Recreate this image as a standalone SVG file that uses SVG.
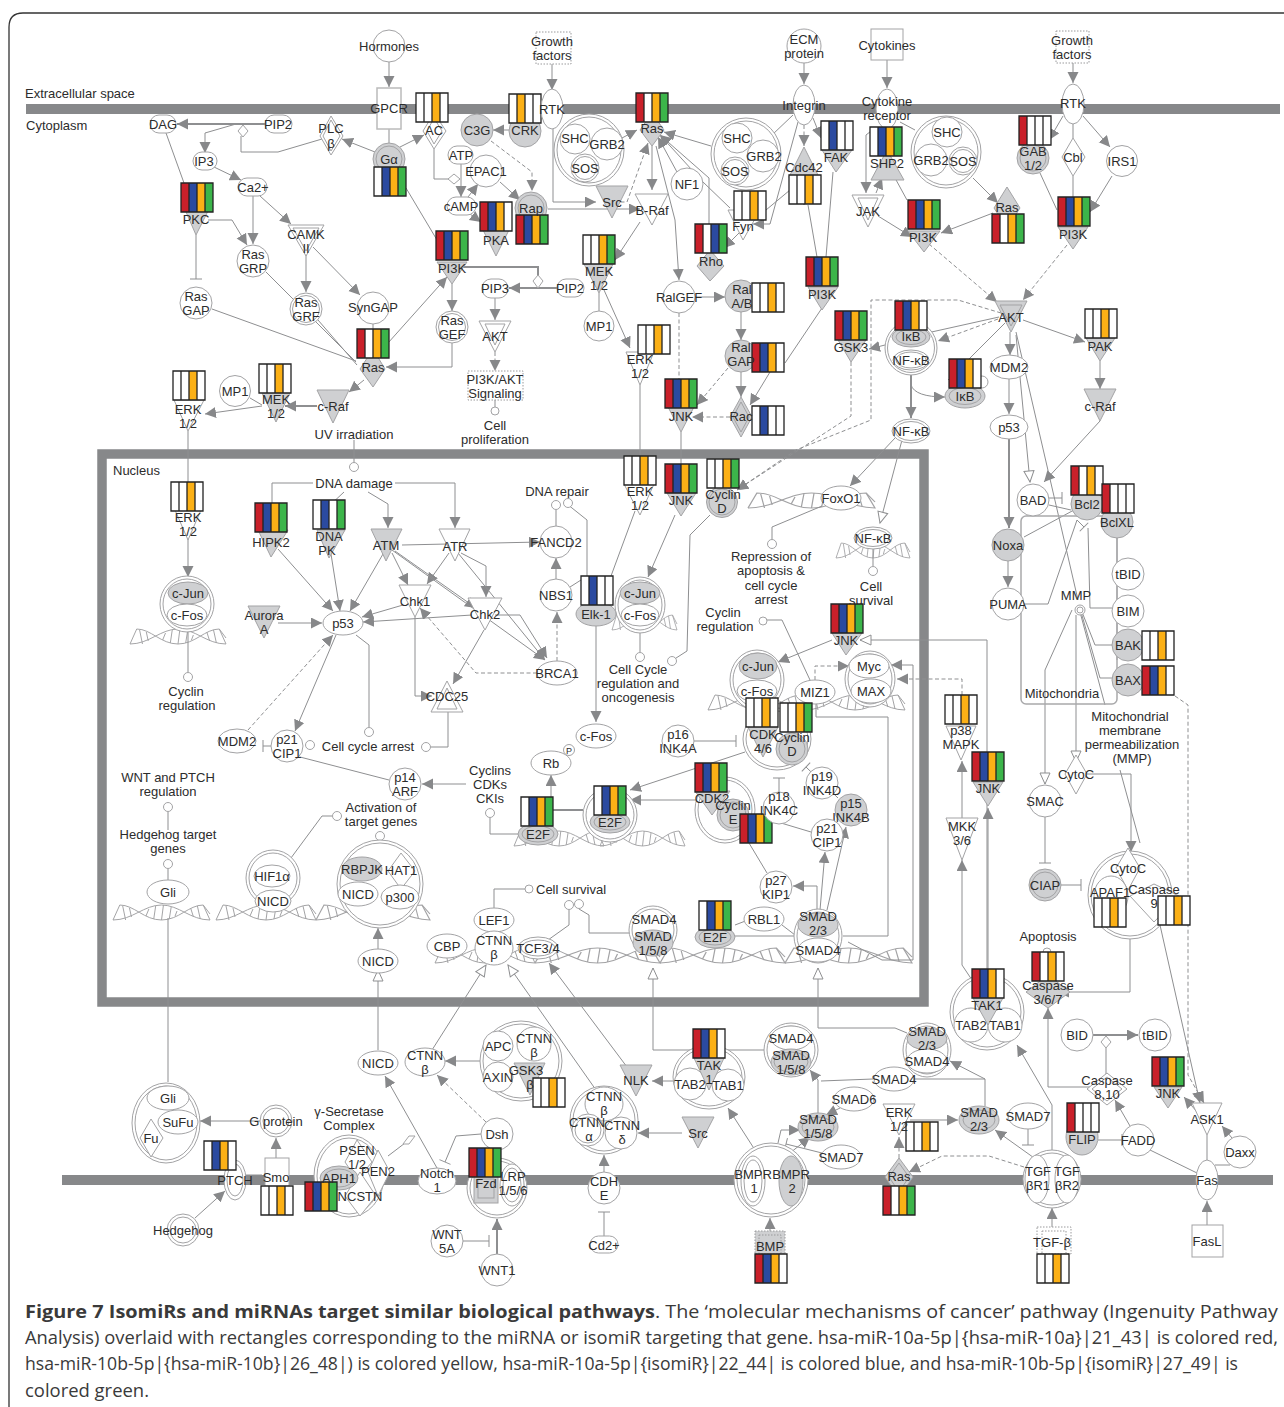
<svg xmlns="http://www.w3.org/2000/svg" width="1284" height="1407" viewBox="0 0 1284 1407">
<style>
.t{font:13px "Liberation Sans",Arial,sans-serif;fill:#2c2c2c;text-anchor:middle}
.l{font:13px "Liberation Sans",Arial,sans-serif;fill:#2c2c2c}
.n{fill:#fff;stroke:#a3a3a5;stroke-width:1}
.f{fill:#cfd0d2;stroke:#a3a3a5;stroke-width:1}
.i{fill:none;stroke:#a3a3a5;stroke-width:1}
.dot{fill:#fff;stroke:#9a9a9c;stroke-width:1;stroke-dasharray:1.5 1.5}
.c path,path.c{fill:none;stroke:#8e8f91;stroke-width:1}
.c .a{marker-end:url(#a)}
.c .o{marker-end:url(#o)}
.c .e{marker-end:url(#e)}
.c .d{stroke-dasharray:4 2.5}
.c .h{stroke-width:2}
.mem{fill:#87888a}
.R{fill:#c9202a}.B{fill:#2b4aa0}.Y{fill:#fbb016}.G{fill:#3cb54a}.W{fill:#fff}
.fr{fill:none;stroke:#232323;stroke-width:1.3}
.cap{font:18px "Open Sans","Noto Sans",Arial,sans-serif;fill:#3a3a3a}
</style>
<defs>
<marker id="a" markerUnits="userSpaceOnUse" markerWidth="12" markerHeight="12" refX="11" refY="5.5" orient="auto"><path d="M0,0L11,5.5L0,11Z" fill="#87888a"/></marker>
<marker id="o" markerUnits="userSpaceOnUse" markerWidth="14" markerHeight="14" refX="12" refY="6" orient="auto"><path d="M1,1L12,6L1,11Z" fill="#fff" stroke="#8e8f91"/></marker>
<marker id="e" markerUnits="userSpaceOnUse" markerWidth="3" markerHeight="14" refX="1.5" refY="7" orient="auto"><path d="M1.5,1V13" stroke="#8e8f91" fill="none"/></marker>
<path id="fr" class="fr" d="M0,0H32V29H0ZM8,0V29M16,0V29M24,0V29"/>
<g id="bRBYG"><rect class="R" width="8" height="29"/><rect class="B" x="8" width="8" height="29"/><rect class="Y" x="16" width="8" height="29"/><rect class="G" x="24" width="8" height="29"/><use href="#fr"/></g>
<g id="bRBYw"><rect class="R" width="8" height="29"/><rect class="B" x="8" width="8" height="29"/><rect class="Y" x="16" width="8" height="29"/><rect class="W" x="24" width="8" height="29"/><use href="#fr"/></g>
<g id="bwBYG"><rect class="W" width="8" height="29"/><rect class="B" x="8" width="8" height="29"/><rect class="Y" x="16" width="8" height="29"/><rect class="G" x="24" width="8" height="29"/><use href="#fr"/></g>
<g id="bwBYw"><rect class="W" width="8" height="29"/><rect class="B" x="8" width="8" height="29"/><rect class="Y" x="16" width="8" height="29"/><rect class="W" x="24" width="8" height="29"/><use href="#fr"/></g>
<g id="bRwYG"><rect class="R" width="8" height="29"/><rect class="W" x="8" width="8" height="29"/><rect class="Y" x="16" width="8" height="29"/><rect class="G" x="24" width="8" height="29"/><use href="#fr"/></g>
<g id="bRwYw"><rect class="R" width="8" height="29"/><rect class="W" x="8" width="8" height="29"/><rect class="Y" x="16" width="8" height="29"/><rect class="W" x="24" width="8" height="29"/><use href="#fr"/></g>
<g id="bRwBG"><rect class="R" width="8" height="29"/><rect class="W" x="8" width="8" height="29"/><rect class="B" x="16" width="8" height="29"/><rect class="G" x="24" width="8" height="29"/><use href="#fr"/></g>
<g id="bRwww"><rect class="R" width="8" height="29"/><rect class="W" x="8" width="24" height="29"/><use href="#fr"/></g>
<g id="bwwYw"><rect class="W" width="32" height="29"/><rect class="Y" x="16" width="8" height="29"/><use href="#fr"/></g>
<g id="bwYww"><rect class="W" width="32" height="29"/><rect class="Y" x="8" width="8" height="29"/><use href="#fr"/></g>
<g id="bwBww"><rect class="W" width="32" height="29"/><rect class="B" x="8" width="8" height="29"/><use href="#fr"/></g>
<g id="bwwYG"><rect class="W" width="32" height="29"/><rect class="Y" x="16" width="8" height="29"/><rect class="G" x="24" width="8" height="29"/><use href="#fr"/></g>
<g id="bwBwG"><rect class="W" width="32" height="29"/><rect class="B" x="8" width="8" height="29"/><rect class="G" x="24" width="8" height="29"/><use href="#fr"/></g>
<g id="dna"><path class="i" d="M0,18L7,3C22,3 32,18 50,18C68,18 78,3 93,3L100,12"/><path class="i" d="M0,18C20,18 32,3 50,3C68,3 80,18 100,18L93,3"/><path class="i" d="M10,4L13,18M17,6L19,15M37,7L34,14M44,4L42,17M52,3L50,18M60,5L58,17M66,9L64,14M80,6L83,15M87,4L90,17"/></g>
</defs>
<path d="M9,1407V27Q9,13 23,13H1284" fill="none" stroke="#333" stroke-width="1.3"/>
<rect class="mem" x="26" y="104" width="1254" height="10"/>
<rect class="mem" x="62" y="1175" width="1211" height="10"/>
<rect x="102" y="454" width="822" height="548" fill="none" stroke="#87888a" stroke-width="9.5"/>
<text class="l" x="25" y="98">Extracellular space</text>
<text class="l" x="26" y="130">Cytoplasm</text>
<text class="l" x="113" y="475">Nucleus</text>
<g id="dna-strands">
<use href="#dna" transform="translate(130,626) scale(.96,1)"/>
<use href="#dna" transform="translate(113,902) scale(.97,1)"/>
<use href="#dna" transform="translate(216,902)"/>
<use href="#dna" transform="translate(316,902) scale(1.14,1)"/>
<use href="#dna" transform="translate(435,945)"/>
<use href="#dna" transform="translate(535,945) scale(1.25,1)"/>
<use href="#dna" transform="translate(660,945) scale(1.25,1)"/>
<use href="#dna" transform="translate(785,945) scale(1.27,1)"/>
<use href="#dna" transform="translate(514,828) scale(.9,1)"/>
<use href="#dna" transform="translate(600,828) scale(.85,1)"/>
<use href="#dna" transform="translate(748,490) scale(1.27,1)"/>
<use href="#dna" transform="translate(836,540) scale(.74,1)"/>
<use href="#dna" transform="translate(708,692)"/>
<use href="#dna" transform="translate(805,692)"/>
<use href="#dna" transform="translate(612,612) scale(.65,1)"/>
</g>
<g id="connectors" class="c">
<path class="a" d="M389,62V87"/><path class="a" d="M552,64V90"/><path class="a" d="M804,63V84"/><path class="a" d="M887,60V88"/><path class="a" d="M1073,63V83"/>
<path class="a h" d="M266,124H177"/><path class="a" d="M236,124L205,133V153"/><path d="M241,136V152H278L322,139"/>
<path class="a" d="M214,167L241,180"/><path class="a" d="M253,196V244"/><path class="a" d="M260,196L291,224"/><path d="M166,133L184,183"/>
<path class="a" d="M208,220H232L247,245"/><path class="e" d="M196,235V279"/><path d="M266,272L356,362"/><path d="M212,309L356,361"/>
<path class="a" d="M306,252V292"/><path class="a" d="M313,247L360,295"/><path d="M318,320L357,365"/><path d="M373,324V329"/>
<path class="a" d="M388,343L447,277"/><path class="a" d="M375,152L342,139"/><path class="a" d="M400,147L424,135"/><path d="M389,129V143"/><path d="M406,188L440,245"/>
<path d="M434,149V179H450"/><path class="a" d="M461,164V197"/><path class="a" d="M500,182L520,200"/><path class="a" d="M468,197L478,184"/><path class="a" d="M470,214L481,222"/>
<path class="a d" d="M491,141L532,172V191"/><path class="a" d="M509,130H493"/><path class="a" d="M553,128V202H596"/><path class="a" d="M548,209H640"/><path class="a d" d="M614,202H627L648,143"/>
<path class="a" d="M622,138L637,130"/><path class="a" d="M652,146V190"/><path class="a" d="M640,222L615,260"/><path class="a" d="M656,146L675,220L679,280"/>
<path class="a" d="M711,146L664,132"/><path class="a" d="M677,172L658,137"/><path class="a" d="M709,224V178L660,135"/><path class="a" d="M730,208L703,182L660,135"/>
<path d="M793,115L772,135"/><path class="a" d="M798,122L770,224H753"/><path class="a d" d="M804,125V146"/><path class="a" d="M813,118L821,138"/>
<path d="M790,190L766,210"/><path class="a" d="M740,232L724,248"/><path d="M808,205L817,257"/><path d="M833,172L826,257"/><path d="M822,308L785,363"/>
<path class="a" d="M695,297H725"/><path class="a" d="M741,312V340"/><path class="a" d="M741,372V397"/><path class="a d" d="M728,368L697,405"/><path class="a d" d="M730,417H692"/><path class="a" d="M770,372L750,405"/><path class="d" d="M679,313V379"/>
<path d="M875,128L866,135"/><path class="a" d="M866,135V193"/><path class="a" d="M876,193L882,178"/><path d="M895,178L907,200"/><path class="a" d="M878,216L912,237"/><path class="a" d="M993,213L941,233"/>
<path d="M900,122L915,130"/><path class="a" d="M973,178L998,203"/><path class="a d" d="M929,244L997,302"/><path class="a d" d="M1067,245L1023,300"/>
<path class="a" d="M1063,116L1049,140"/><path d="M1073,124V138"/><path d="M1073,176V197"/><path class="a" d="M1083,116L1110,147"/><path class="a" d="M1112,176L1090,212"/><path d="M1040,173L1057,210"/>
<path d="M999,317L927,333"/><path class="a d" d="M998,319L938,341"/><path d="M1005,323L948,380"/><path class="a" d="M1010,332V355"/><path class="a" d="M1023,320L1085,342"/>
<path class="a d" d="M1001,313L958,300H871V420L796,450L737,490"/><path class="a d" d="M851,362V416L737,490"/>
<path class="o" d="M1016,335L1030,482"/><path d="M1016,332L1078,600"/><path class="a" d="M1100,421L1044,482"/><path class="a" d="M1100,361V389"/><path class="a" d="M1009,379V414"/><path class="a h" d="M1009,439V528"/><path class="a" d="M1008,561V587"/>
<path class="a" d="M885,345L869,349"/><path class="a h" d="M911,375V418"/><path class="a" d="M911,385Q915,397 945,397"/><path class="a" d="M895,438L850,486"/><path class="o" d="M902,440L880,523"/>
<path class="e" d="M1049,498H1062"/><path d="M1049,505L1071,510"/><path d="M1024,537L1074,510"/><path d="M1024,604H1048L1077,520"/><path class="e" d="M1077,520L1084,527"/>
<path d="M1117,538V660"/><path d="M1088,528L1090,608H1112"/><path d="M1082,612L1095,645H1112"/><path d="M1081,612L1100,678H1112"/><path d="M1080,612L1105,705"/><path d="M1120,770L1140,843"/>
<path class="o" d="M1072,610L1045,670V784"/><path class="o" d="M1076,615V762"/><path class="e" d="M1045,817V863"/><path class="e" d="M1061,885H1081"/><path class="a" d="M1086,774H1131V852"/><path class="a" d="M1130,928V992H1058"/><path class="a" d="M1160,925L1200,1103"/>
<path class="a d" d="M1175,696L1188,705V1075L1204,1103"/>
<path class="a" d="M1052,1151V1105L1017,1045"/><path class="a" d="M1090,1087H1048V1008"/><path class="a h" d="M1093,1035H1138"/><path d="M1106,1048V1075"/><path class="a" d="M1130,1126L1115,1100"/><path class="e" d="M1098,1140H1122"/><path d="M1150,1150L1197,1173"/><path d="M1207,1160V1135"/><path d="M1215,1165L1230,1165"/>
<path class="a" d="M1232,1138L1222,1126"/><path class="a" d="M1198,1113L1184,1097"/><path class="a" d="M1207,1225V1201"/><path class="a" d="M1052,1227V1208"/><path class="a" d="M770,1231V1218"/><path class="a" d="M755,1150L728,1108"/>
<path class="a" d="M778,1143L781,1130H800"/><path class="a" d="M790,1153L810,1137"/><path class="e" d="M822,1153L786,1144"/><path class="a" d="M840,1108L826,1115"/><path class="a" d="M818,1113V1080L810,1070"/><path d="M873,1079L821,1081"/><path d="M914,1079H985"/><path class="a" d="M985,1106V1079L950,1061"/>
<path class="a" d="M1037,1160L995,1130"/><path class="a d" d="M1024,1167L989,1156H942L909,1172"/><path class="e" d="M1028,1129V1145"/><path class="a d" d="M899,1158V1137"/><path class="a" d="M910,1120H958"/>
<path d="M818,1028H895L907,1033"/><path class="o" d="M818,1028V968"/><path d="M653,1050H765"/><path class="o" d="M653,1050V968"/><path class="a" d="M682,1133H638"/><path class="a" d="M674,1081H652"/>
<path class="a" d="M627,1067L549,963"/><path class="o" d="M596,1090L508,965"/><path class="o" d="M432,1050L486,965"/><path class="o" d="M378,1050V970"/><path class="a" d="M437,1168L385,1076"/><path class="a" d="M481,1061H445"/><path class="a d" d="M486,1122L437,1075"/>
<path class="e" d="M481,1134L456,1136L445,1162"/><path d="M409,1140L388,1156"/><path class="a h" d="M497,1254V1219"/><path class="e" d="M463,1241H489"/><path class="a" d="M604,1172V1155"/><path class="e" d="M604,1236V1212"/>
<path class="a" d="M260,1121H200"/><path class="a" d="M276,1158V1138"/><path class="a" d="M195,1218L225,1191"/><path d="M246,1175H262"/><path d="M168,918V1082"/>
<path class="a" d="M188,531V577"/><path d="M188,431V482"/><path d="M188,631V672"/><path class="a" d="M262,406L205,414"/><path class="a h" d="M317,406H285"/><path class="a" d="M364,380L349,392"/><path d="M250,398L262,405"/>
<path class="a" d="M452,343V367H386"/><path class="a" d="M452,284V311"/><path class="h" d="M462,267H538V276"/><path class="a h" d="M557,288H509"/><path class="a" d="M495,298V320"/><path class="a d" d="M495,352V371"/><path d="M495,400V407"/><path d="M354,440V463"/>
<path d="M640,385V456"/><path class="a" d="M604,290L630,348"/><path d="M599,293V311"/><path d="M681,432V464"/><path class="a" d="M675,515L648,577"/><path d="M635,511L611,576"/><path class="a" d="M596,626V722"/>
<path d="M567,504L587,520V576"/><path d="M570,587L581,580"/><path d="M556,526V510"/><path class="a" d="M556,579V558"/><path class="a d" d="M557,661V612"/><path class="a" d="M402,545L540,542"/>
<path class="a" d="M395,483H455V528"/><path class="a" d="M368,492L388,504V528"/><path d="M344,492L328,507"/><path d="M313,483H272V503"/><path class="a" d="M278,549L333,611"/><path class="a" d="M331,554L340,611"/><path class="a" d="M383,554L350,611"/><path class="a" d="M278,623H322"/>
<path class="a" d="M403,605L362,617"/><path class="a" d="M472,615L363,622"/><path class="a" d="M392,553L408,585"/><path class="a" d="M449,553L427,584"/><path class="a" d="M395,551L476,608"/><path class="a" d="M461,553L486,566V597"/><path class="a" d="M392,550L545,660"/><path class="a" d="M458,553L545,660"/><path class="a" d="M495,615H520L547,658"/>
<path class="a d" d="M537,673H476L420,608"/><path class="a" d="M415,617V696H432"/><path class="a" d="M484,630L453,684"/><path d="M448,712V747H431"/><path class="a" d="M336,635L295,731"/><path class="a d" d="M248,730L333,635"/><path d="M356,635L369,645V727"/><path class="e" d="M271,746H263"/><path d="M300,757L389,780"/><path class="a" d="M466,784H422"/>
<path d="M490,818V834H521"/><path class="a" d="M551,797V775"/><path class="h" d="M552,810H583"/><path d="M332,816H322L288,862"/><path d="M380,841V842"/><path class="a" d="M378,949V928"/><path d="M168,812V830"/><path d="M168,869V880"/><path d="M494,908V889H525"/><path d="M548,940L569,925V910"/><path d="M579,909L589,915V933H630"/>
<path d="M735,925L748,920"/><path d="M782,925L795,935"/><path d="M735,936H794"/><path class="a" d="M817,918V886H793"/><path class="a" d="M820,910L825,852"/><path class="a" d="M827,910L846,827"/><path d="M811,832L771,820"/><path d="M767,873L749,843"/><path class="e" d="M779,792V778"/><path class="e" d="M838,798L806,767"/><path class="e" d="M694,741H736"/><path class="a" d="M745,752L630,790"/><path class="a" d="M696,800H630"/>
<path class="a" d="M832,640L778,662"/><path class="o" d="M987,970V640H860"/><path class="a" d="M988,970V808"/><path class="a" d="M962,818V761"/><path class="a" d="M972,980L962,965V860"/><path class="a d" d="M962,695V679H897"/><path class="a d" d="M815,680V666H849"/><path d="M767,620H782L810,680"/><path d="M816,704V717H888V936H843"/><path class="a" d="M848,942L882,960H913V665H891"/>
<path d="M710,515L690,535L687,651L673,660"/><path d="M772,540V527L822,506"/><path d="M873,549V566"/><path d="M640,633V652"/>
</g>
<rect x="1021" y="516" width="96" height="188" rx="5" fill="none" stroke="#a9a9ab" stroke-width="1.5"/>
<text class="t" x="1062" y="698">Mitochondria</text>
<g id="nodes">
<g id="hormones"><circle class="n" cx="389" cy="46" r="16"/><text class="t" x="389" y="51">Hormones</text></g>
<g id="gf1"><rect class="dot" x="536" y="32" width="35" height="32"/><text class="t" x="552" y="46">Growth<tspan x="552" dy="14">factors</tspan></text></g>
<g id="gpcr"><rect x="377" y="88" width="24" height="41" fill="#fff" stroke="#bbb" stroke-width="1.5"/><text class="t" x="389" y="113">GPCR</text></g>
<g id="ac"><polygon class="n" points="434,113 446,131 434,149 423,131"/><polygon class="i" points="434,118 442,131 434,144 427,131"/><use href="#bwwYw" x="416" y="93"/><text class="t" x="434" y="135">AC</text></g>
<g id="crk"><circle class="f" cx="525" cy="131" r="16"/><use href="#bwYww" x="509" y="94"/><text class="t" x="525" y="135">CRK</text></g>
<g id="rtk1"><ellipse class="n" cx="552" cy="109" rx="11" ry="20"/><text class="t" x="552" y="114">RTK</text></g>
<g id="c3g"><circle class="f" cx="477" cy="130" r="16"/><text class="t" x="477" y="135">C3G</text></g>
<g id="dag"><rect class="n" x="150" y="115" width="26" height="18" rx="9"/><text class="t" x="163" y="129">DAG</text></g>
<g id="pip2a"><rect class="n" x="265" y="115" width="27" height="18" rx="9"/><text class="t" x="278" y="129">PIP2</text></g>
<g id="dm1"><polygon class="n" points="243,125 248,131 243,137 238,131"/></g>
<g id="plc"><polygon class="n" points="331,116 343,136 331,155 320,136"/><polygon class="i" points="331,120 340,136 331,151 323,136"/><text class="t" x="331" y="133">PLC<tspan x="331" dy="15">β</tspan></text></g>
<g id="ga"><circle class="f" cx="389" cy="159" r="16"/><circle class="i" cx="389" cy="159" r="13"/><use href="#bwBYG" x="374" y="167"/><text class="t" x="389" y="164">Gα</text></g>
<g id="ip3"><rect class="n" x="193" y="152" width="24" height="18" rx="9"/><text class="t" x="204" y="166">IP3</text></g>
<g id="ca"><rect class="n" x="238" y="178" width="29" height="18" rx="9"/><text class="t" x="253" y="192">Ca2+</text></g>
<g id="pkc"><polygon class="f" points="183,205 211,205 196,235"/><use href="#bRBYG" x="181" y="183"/><text class="t" x="196" y="224">PKC</text></g>
<g id="rasgrp"><circle class="n" cx="253" cy="261" r="16"/><text class="t" x="253" y="259">Ras<tspan x="253" dy="14">GRP</tspan></text></g>
<g id="camk"><polygon class="n" points="288,225 324,225 306,256"/><polygon class="i" points="293,228 319,228 306,251"/><text class="t" x="306" y="239">CAMK<tspan x="306" dy="14">II</tspan></text></g>
<g id="rasgrf"><circle class="n" cx="306" cy="309" r="16"/><circle class="i" cx="306" cy="309" r="13.5"/><text class="t" x="306" y="307">Ras<tspan x="306" dy="14">GRF</tspan></text></g>
<g id="syngap"><circle class="n" cx="373" cy="308" r="16"/><text class="t" x="373" y="312">SynGAP</text></g>
<g id="rasgap"><circle class="n" cx="196" cy="303" r="16"/><text class="t" x="196" y="301">Ras<tspan x="196" dy="14">GAP</tspan></text></g>
<g id="ras1"><polygon class="f" points="373,349 385,369 373,387 360,369"/><use href="#bRwYG" x="357" y="329"/><text class="t" x="373" y="372">Ras</text></g>
<g id="craf1"><polygon class="f" points="317,390 349,390 333,423"/><text class="t" x="333" y="411">c-Raf</text></g>
<g id="mek1"><polygon class="f" points="262,393 290,393 276,422"/><use href="#bwwYw" x="259" y="364"/><text class="t" x="276" y="404">MEK<tspan x="276" dy="14">1/2</tspan></text></g>
<g id="mp1a"><circle class="n" cx="235" cy="391" r="15.5"/><text class="t" x="235" y="396">MP1</text></g>
<g id="erk1"><polygon class="n" points="174,400 204,400 188,431"/><use href="#bwwYw" x="173" y="371"/><text class="t" x="188" y="414">ERK<tspan x="188" dy="14">1/2</tspan></text></g>
<g id="pi3k1"><polygon class="f" points="437,262 467,262 452,284"/><use href="#bRBYG" x="436" y="231"/><text class="t" x="452" y="273">PI3K</text></g>
<g id="pka"><polygon class="f" points="482,228 510,228 496,256"/><use href="#bRBYw" x="480" y="202"/><text class="t" x="496" y="245">PKA</text></g>
<g id="rap"><circle class="f" cx="531" cy="208" r="16"/><circle class="i" cx="531" cy="208" r="13"/><use href="#bRBYG" x="516" y="215"/><text class="t" x="531" y="213">Rap</text></g>
<g id="atp"><rect class="n" x="448" y="146" width="25" height="18" rx="9"/><text class="t" x="461" y="160">ATP</text></g>
<g id="epac"><circle class="n" cx="486" cy="171" r="16"/><text class="t" x="486" y="176">EPAC1</text></g>
<g id="camp"><rect class="n" x="447" y="197" width="29" height="18" rx="9"/><text class="t" x="461" y="211">cAMP</text></g>
<g id="dm2"><polygon class="n" points="454,174 460,179 454,184 448,179"/></g>
<g id="shc1"><ellipse class="n" cx="589" cy="150" rx="35" ry="36"/><ellipse class="i" cx="589" cy="150" rx="32" ry="33"/><circle class="n" cx="575" cy="139" r="15"/><circle class="n" cx="607" cy="144" r="16"/><circle class="n" cx="585" cy="168" r="14"/><circle class="i" cx="585" cy="168" r="11.5"/><text class="t" x="575" y="143">SHC</text><text class="t" x="607" y="149">GRB2</text><text class="t" x="585" y="173">SOS</text></g>
<g id="src1"><polygon class="f" points="596,186 628,186 612,218"/><text class="t" x="612" y="207">Src</text></g>
<g id="braf"><polygon class="n" points="635,194 668,194 652,225"/><text class="t" x="652" y="215">B-Raf</text></g>
<g id="ras2"><polygon class="f" points="652,113 664,130 652,146 640,130"/><use href="#bRwYG" x="636" y="93"/><text class="t" x="652" y="133">Ras</text></g>
<g id="nf1"><circle class="n" cx="687" cy="184" r="16"/><text class="t" x="687" y="189">NF1</text></g>
<g id="mek2"><polygon class="f" points="584,264 613,264 599,293"/><use href="#bwwYG" x="583" y="235"/><text class="t" x="599" y="276">MEK<tspan x="599" dy="14">1/2</tspan></text></g>
<g id="mp1b"><circle class="n" cx="599" cy="326" r="15"/><text class="t" x="599" y="331">MP1</text></g>
<g id="pip2b"><rect class="n" x="557" y="279" width="27" height="18" rx="9"/><text class="t" x="570" y="293">PIP2</text></g>
<g id="pip3"><rect class="n" x="482" y="279" width="26" height="19" rx="9"/><text class="t" x="495" y="293">PIP3</text></g>
<g id="dm3"><polygon class="n" points="538,275 543,281 538,288 533,281"/></g>
<g id="rasgef"><circle class="n" cx="452" cy="327" r="16"/><circle class="i" cx="452" cy="327" r="13.5"/><text class="t" x="452" y="325">Ras<tspan x="452" dy="14">GEF</tspan></text></g>
<g id="akt1"><polygon class="n" points="479,321 511,321 495,352"/><polygon class="i" points="485,324 505,324 495,345"/><text class="t" x="495" y="341">AKT</text></g>
<g id="pi3ksig"><rect class="dot" x="468" y="371" width="55" height="29"/><text class="t" x="495" y="384">PI3K/AKT<tspan x="495" dy="14">Signaling</tspan></text></g>
<g id="cellprol"><circle class="n" cx="495" cy="411" r="4"/><text class="t" x="495" y="430">Cell<tspan x="495" dy="14">proliferation</tspan></text></g>
<g id="uv"><text class="t" x="354" y="439">UV irradiation</text><circle class="n" cx="354" cy="467" r="4.5"/></g>
<g id="shc2"><ellipse class="n" cx="746" cy="154" rx="35" ry="36"/><ellipse class="i" cx="746" cy="154" rx="32" ry="33"/><circle class="n" cx="737" cy="138" r="15"/><circle class="n" cx="763" cy="156" r="16"/><circle class="n" cx="735" cy="171" r="14"/><circle class="i" cx="735" cy="171" r="11.5"/><text class="t" x="737" y="143">SHC</text><text class="t" x="764" y="161">GRB2</text><text class="t" x="735" y="176">SOS</text></g>
<g id="ecm"><circle class="n" cx="804" cy="46" r="17"/><text class="t" x="804" y="44">ECM<tspan x="804" dy="14">protein</tspan></text></g>
<g id="integrin"><ellipse class="n" cx="804" cy="105" rx="11" ry="20"/><text class="t" x="804" y="110">Integrin</text></g>
<g id="cytokines"><rect class="n" x="871" y="29" width="32" height="31" stroke-width="1.5"/><text class="t" x="887" y="50">Cytokines</text></g>
<g id="cytrec"><ellipse class="n" cx="887" cy="109" rx="11" ry="20"/><text class="t" x="887" y="106">Cytokine<tspan x="887" dy="14">receptor</tspan></text></g>
<g id="gf2"><rect class="dot" x="1056" y="31" width="33" height="32"/><text class="t" x="1072" y="45">Growth<tspan x="1072" dy="14">factors</tspan></text></g>
<g id="rtk2"><ellipse class="n" cx="1073" cy="104" rx="11" ry="20"/><text class="t" x="1073" y="108">RTK</text></g>
<g id="fak"><polygon class="f" points="822,150 852,150 836,172"/><use href="#bwBww" x="821" y="121"/><text class="t" x="836" y="162">FAK</text></g>
<g id="cdc42"><polygon class="f" points="804,147 819,177 804,205 789,177"/><use href="#bwwYw" x="789" y="175"/><text class="t" x="804" y="172">Cdc42</text></g>
<g id="fyn"><polygon class="n" points="728,210 760,210 743,240"/><use href="#bwwYw" x="734" y="191"/><text class="t" x="743" y="231">Fyn</text></g>
<g id="rho"><polygon class="f" points="710,250 724,266 710,281 697,266"/><use href="#bRwBG" x="695" y="224"/><text class="t" x="711" y="266">Rho</text></g>
<g id="shp2"><polygon class="f" points="887,150 904,180 871,180"/><use href="#bwBYG" x="870" y="127"/><text class="t" x="887" y="168">SHP2</text></g>
<g id="jak"><polygon class="n" points="852,195 884,195 868,227"/><polygon class="i" points="858,198 878,198 868,220"/><text class="t" x="868" y="216">JAK</text></g>
<g id="shc3"><ellipse class="n" cx="946" cy="152" rx="35" ry="36"/><ellipse class="i" cx="946" cy="152" rx="32" ry="33"/><circle class="n" cx="947" cy="132" r="15"/><circle class="n" cx="931" cy="160" r="16"/><circle class="n" cx="963" cy="161" r="14"/><circle class="i" cx="963" cy="161" r="11.5"/><text class="t" x="947" y="137">SHC</text><text class="t" x="931" y="165">GRB2</text><text class="t" x="963" y="166">SOS</text></g>
<g id="ras3"><polygon class="f" points="1007,187 1020,208 1007,228 994,208"/><use href="#bRwYG" x="992" y="214"/><text class="t" x="1007" y="212">Ras</text></g>
<g id="pi3k2"><polygon class="f" points="908,231 940,231 924,252"/><use href="#bRBYG" x="908" y="200"/><text class="t" x="923" y="242">PI3K</text></g>
<g id="gab"><circle class="f" cx="1033" cy="158" r="16"/><circle class="i" cx="1033" cy="158" r="13"/><use href="#bRwww" x="1019" y="116"/><text class="t" x="1033" y="156">GAB<tspan x="1033" dy="14">1/2</tspan></text></g>
<g id="cbl"><polygon class="n" points="1073,138 1085,157 1073,176 1062,157"/><text class="t" x="1073" y="162">Cbl</text></g>
<g id="irs1"><circle class="n" cx="1122" cy="161" r="15.5"/><text class="t" x="1122" y="166">IRS1</text></g>
<g id="pi3k3"><polygon class="f" points="1058,227 1088,227 1073,249"/><use href="#bRBYG" x="1058" y="197"/><text class="t" x="1073" y="239">PI3K</text></g>
<g id="ralgef"><circle class="n" cx="679" cy="297" r="16"/><text class="t" x="679" y="302">RalGEF</text></g>
<g id="ralab"><circle class="f" cx="741" cy="296" r="16"/><use href="#bwwYw" x="752" y="283"/><text class="t" x="742" y="294">Ral<tspan x="742" dy="14">A/B</tspan></text></g>
<g id="pi3k4"><polygon class="f" points="808,287 838,287 822,310"/><use href="#bRBYG" x="806" y="257"/><text class="t" x="822" y="299">PI3K</text></g>
<g id="ralgap"><circle class="f" cx="741" cy="356" r="16"/><use href="#bRBYw" x="752" y="343"/><text class="t" x="741" y="352">Ral<tspan x="741" dy="14">GAP</tspan></text></g>
<g id="rac"><polygon class="f" points="741,397 752,417 741,437 730,417"/><polygon class="i" points="741,402 749,417 741,432 733,417"/><use href="#bwBww" x="752" y="406"/><text class="t" x="741" y="421">Rac</text></g>
<g id="jnk1"><polygon class="f" points="667,405 695,405 681,432"/><use href="#bRBYG" x="665" y="379"/><text class="t" x="681" y="421">JNK</text></g>
<g id="erk2"><polygon class="n" points="626,352 654,352 640,385"/><use href="#bwwYw" x="638" y="325"/><text class="t" x="640" y="364">ERK<tspan x="640" dy="14">1/2</tspan></text></g>
<g id="gsk3"><polygon class="f" points="838,340 866,340 851,362"/><use href="#bRBYG" x="835" y="311"/><text class="t" x="851" y="352">GSK3</text></g>
<g id="ikbc"><ellipse class="n" cx="911" cy="348" rx="26" ry="27"/><ellipse class="i" cx="911" cy="348" rx="23.5" ry="24.5"/><ellipse class="f" cx="911" cy="337" rx="19" ry="10"/><ellipse class="i" cx="911" cy="337" rx="15" ry="7.5"/><ellipse class="n" cx="911" cy="360" rx="18" ry="10"/><ellipse class="i" cx="911" cy="360" rx="15" ry="8"/><use href="#bRBYw" x="895" y="301"/><text class="t" x="911" y="341">IκB</text><text class="t" x="911" y="365">NF-κB</text></g>
<g id="ikb2"><circle class="n" cx="982" cy="382" r="6"/><ellipse class="f" cx="965" cy="396" rx="20" ry="12"/><ellipse class="i" cx="965" cy="396" rx="16" ry="8.5"/><use href="#bRBYw" x="949" y="359"/><text class="t" x="965" y="401">IκB</text></g>
<g id="nfkb2"><ellipse class="n" cx="911" cy="431" rx="19" ry="12"/><ellipse class="i" cx="911" cy="431" rx="16" ry="9.5"/><text class="t" x="911" y="436">NF-κB</text></g>
<g id="akt2"><polygon class="f" points="995,301 1027,301 1011,332"/><polygon class="i" points="1000,305 1022,305 1011,326"/><text class="t" x="1011" y="322">AKT</text></g>
<g id="mdm2a"><ellipse class="n" cx="1009" cy="367" rx="19" ry="12"/><text class="t" x="1009" y="372">MDM2</text></g>
<g id="p53a"><ellipse class="n" cx="1009" cy="427" rx="19" ry="12"/><text class="t" x="1009" y="432">p53</text></g>
<g id="pak"><polygon class="f" points="1086,338 1115,338 1100,361"/><use href="#bwwYw" x="1085" y="309"/><text class="t" x="1100" y="351">PAK</text></g>
<g id="craf2"><polygon class="f" points="1084,389 1116,389 1100,421"/><text class="t" x="1100" y="411">c-Raf</text></g>
<g id="bad"><circle class="n" cx="1033" cy="500" r="16"/><text class="t" x="1033" y="505">BAD</text></g>
<g id="bcl2"><circle class="f" cx="1087" cy="504" r="16"/><use href="#bRwYw" x="1071" y="466"/><text class="t" x="1087" y="509">Bcl2</text></g>
<g id="bclxl"><circle class="f" cx="1117" cy="522" r="16"/><use href="#bRwww" x="1102" y="484"/><text class="t" x="1117" y="527">BclXL</text></g>
<g id="noxa"><circle class="f" cx="1008" cy="545" r="16"/><text class="t" x="1008" y="550">Noxa</text></g>
<g id="puma"><circle class="n" cx="1008" cy="604" r="16"/><text class="t" x="1008" y="609">PUMA</text></g>
<g id="tbid1"><circle class="n" cx="1128" cy="574" r="16"/><text class="t" x="1128" y="579">tBID</text></g>
<g id="bim"><circle class="n" cx="1128" cy="611" r="16"/><text class="t" x="1128" y="616">BIM</text></g>
<g id="bak"><circle class="f" cx="1128" cy="645" r="16"/><use href="#bwwYw" x="1142" y="631"/><text class="t" x="1128" y="650">BAK</text></g>
<g id="bax"><circle class="f" cx="1128" cy="680" r="16"/><use href="#bRBYw" x="1142" y="666"/><text class="t" x="1128" y="685">BAX</text></g>
<g id="mmp"><text class="t" x="1076" y="600">MMP</text><circle class="n" cx="1080" cy="610" r="5"/><circle class="i" cx="1080" cy="610" r="3"/></g>
<text class="t" x="1130" y="721">Mitochondrial<tspan x="1130" dy="14">membrane</tspan><tspan x="1132" dy="14">permeabilization</tspan><tspan x="1132" dy="14">(MMP)</tspan></text>
<g id="cytoc"><polygon class="n" points="1076,755 1087,774 1076,794 1065,774"/><text class="t" x="1076" y="779">CytoC</text></g>
<g id="smac"><circle class="n" cx="1045" cy="801" r="16"/><text class="t" x="1045" y="806">SMAC</text></g>
<g id="ciap"><circle class="f" cx="1045" cy="885" r="16"/><circle class="i" cx="1045" cy="885" r="13"/><text class="t" x="1045" y="890">CIAP</text></g>
<g id="casp9c"><ellipse class="n" cx="1130" cy="895" rx="42" ry="44"/><ellipse class="i" cx="1130" cy="895" rx="39" ry="41"/><polygon class="n" points="1128,848 1140,868 1128,890 1116,868"/><ellipse class="n" cx="1111" cy="896" rx="17" ry="20"/><polygon class="n" points="1154,884 1179,896 1154,922 1130,896"/><use href="#bwwYw" x="1094" y="898"/><use href="#bwwYw" x="1158" y="896"/><text class="t" x="1128" y="873">CytoC</text><text class="t" x="1110" y="897">APAF1</text><text class="t" x="1154" y="894">Caspase<tspan x="1154" dy="14">9</tspan></text></g>
<g id="casp3"><text class="t" x="1048" y="941">Apoptosis</text><circle class="n" cx="1047" cy="952" r="4"/><polygon class="f" points="1048,975 1070,992 1048,1008 1026,992"/><use href="#bRwYw" x="1032" y="952"/><text class="t" x="1048" y="990">Caspase<tspan x="1048" dy="14">3/6/7</tspan></text></g>
<g id="tak1c"><ellipse class="n" cx="987" cy="1012" rx="37" ry="38"/><ellipse class="i" cx="987" cy="1012" rx="34" ry="35"/><circle class="n" cx="971" cy="1025" r="17"/><circle class="n" cx="1005" cy="1025" r="17"/><polygon class="f" points="973,998 1003,998 988,1025"/><use href="#bRBYw" x="972" y="969"/><text class="t" x="987" y="1010">TAK1</text><text class="t" x="971" y="1030">TAB2</text><text class="t" x="1005" y="1030">TAB1</text></g>
<g id="p38"><polygon class="n" points="946,726 976,726 961,760"/><use href="#bwwYw" x="945" y="695"/><text class="t" x="961" y="735">p38<tspan x="961" dy="14">MAPK</tspan></text></g>
<g id="jnk2"><polygon class="f" points="973,782 1003,782 988,806"/><use href="#bRBYG" x="972" y="752"/><text class="t" x="988" y="793">JNK</text></g>
<g id="mkk"><polygon class="n" points="946,818 978,818 962,860"/><text class="t" x="962" y="831">MKK<tspan x="962" dy="14">3/6</tspan></text></g>
<g id="erk3"><polygon class="n" points="175,510 201,510 188,540"/><use href="#bwwYw" x="171" y="482"/><text class="t" x="188" y="522">ERK<tspan x="188" dy="14">1/2</tspan></text></g>
<g id="junfos1"><ellipse class="n" cx="187" cy="604" rx="27" ry="28"/><ellipse class="i" cx="187" cy="604" rx="24" ry="25"/><ellipse class="f" cx="188" cy="593" rx="20" ry="11"/><ellipse class="n" cx="187" cy="615" rx="20" ry="11"/><text class="t" x="188" y="598">c-Jun</text><text class="t" x="187" y="620">c-Fos</text></g>
<g id="cyc1"><circle class="n" cx="188" cy="677" r="4.5"/><text class="t" x="186" y="696">Cyclin<tspan x="187" dy="14">regulation</tspan></text></g>
<g id="hipk2"><polygon class="f" points="258,530 288,530 271,557"/><use href="#bRBYG" x="255" y="503"/><text class="t" x="271" y="547">HIPK2</text></g>
<g id="dnapk"><polygon class="f" points="317,530 345,530 329,558"/><use href="#bwBwG" x="313" y="500"/><text class="t" x="329" y="541">DNA<tspan x="327" dy="14">PK</tspan></text></g>
<text class="t" x="354" y="488" id="dnadmg">DNA damage</text>
<g id="atm"><polygon class="f" points="371,529 402,529 386,561"/><text class="t" x="386" y="550">ATM</text></g>
<g id="atr"><polygon class="n" points="439,529 470,529 455,561"/><text class="t" x="455" y="551">ATR</text></g>
<g id="fancd2"><circle class="n" cx="556" cy="542" r="16"/><text class="t" x="556" y="547">FANCD2</text></g>
<g id="nbs1"><circle class="n" cx="556" cy="595" r="16"/><text class="t" x="556" y="600">NBS1</text></g>
<g id="dnarep"><text class="t" x="557" y="496">DNA repair</text><circle class="n" cx="556" cy="505" r="4.5"/><circle class="n" cx="568" cy="503" r="4.5"/></g>
<g id="chk1"><polygon class="n" points="399,585 431,585 415,617"/><text class="t" x="415" y="606">Chk1</text></g>
<g id="chk2"><polygon class="n" points="468,598 502,598 485,630"/><text class="t" x="485" y="619">Chk2</text></g>
<g id="aurora"><polygon class="f" points="248,606 280,606 264,638"/><text class="t" x="264" y="620">Aurora<tspan x="264" dy="14">A</tspan></text></g>
<g id="p53b"><ellipse class="n" cx="343" cy="623" rx="20" ry="12"/><text class="t" x="343" y="628">p53</text></g>
<g id="brca1"><ellipse class="n" cx="557" cy="673" rx="20" ry="12"/><text class="t" x="557" y="678">BRCA1</text></g>
<g id="cdc25"><polygon class="n" points="447,681 463,712 431,712"/><polygon class="i" points="447,688 457,709 437,709"/><text class="t" x="447" y="701">CDC25</text></g>
<g id="mdm2b"><ellipse class="n" cx="237" cy="741" rx="19" ry="12"/><text class="t" x="237" y="746">MDM2</text></g>
<g id="p21a"><circle class="n" cx="287" cy="746" r="16"/><text class="t" x="287" y="744">p21<tspan x="287" dy="14">CIP1</tspan></text></g>
<circle class="n" cx="310" cy="745" r="4.5"/>
<g id="ccarrest"><text class="t" x="368" y="751">Cell cycle arrest</text><circle class="n" cx="426" cy="747" r="4.5"/><circle class="n" cx="369" cy="732" r="4.5"/></g>
<g id="p14"><circle class="n" cx="405" cy="784" r="16"/><text class="t" x="405" y="782">p14<tspan x="405" dy="14">ARF</tspan></text></g>
<g id="cyclins"><text class="t" x="490" y="775">Cyclins<tspan x="490" dy="14">CDKs</tspan><tspan x="490" dy="14">CKIs</tspan></text><circle class="n" cx="490" cy="813" r="4.5"/></g>
<g id="rb"><circle class="n" cx="569" cy="750" r="5.5"/><ellipse class="n" cx="551" cy="763" rx="20" ry="12"/><text class="t" x="551" y="768">Rb</text><text class="t" x="569" y="754" style="font-size:9px">P</text></g>
<g id="e2f1"><ellipse class="f" cx="538" cy="834" rx="20" ry="11"/><ellipse class="i" cx="538" cy="834" rx="16" ry="8"/><use href="#bwBYG" x="521" y="797"/><text class="t" x="538" y="839">E2F</text></g>
<g id="e2f2"><ellipse class="n" cx="610" cy="815" rx="27" ry="27"/><ellipse class="i" cx="610" cy="815" rx="24" ry="24"/><ellipse class="f" cx="610" cy="822" rx="20" ry="11"/><ellipse class="i" cx="610" cy="822" rx="16" ry="8"/><use href="#bwBYG" x="594" y="786"/><text class="t" x="610" y="827">E2F</text></g>
<g id="wnt"><text class="t" x="168" y="782">WNT and PTCH<tspan x="168" dy="14">regulation</tspan></text><circle class="n" cx="168" cy="807" r="4.5"/><text class="t" x="168" y="839">Hedgehog target<tspan x="168" dy="14">genes</tspan></text><circle class="n" cx="168" cy="864" r="4.5"/></g>
<g id="gli1"><ellipse class="n" cx="168" cy="892" rx="21" ry="12"/><text class="t" x="168" y="897">Gli</text></g>
<g id="hif"><ellipse class="n" cx="273" cy="878" rx="27" ry="28"/><ellipse class="i" cx="273" cy="878" rx="24" ry="25"/><ellipse class="n" cx="272" cy="876" rx="18" ry="11"/><ellipse class="n" cx="273" cy="901" rx="18" ry="11"/><text class="t" x="272" y="881">HIF1α</text><text class="t" x="273" y="906">NICD</text></g>
<g id="actv"><text class="t" x="381" y="812">Activation of<tspan x="381" dy="14">target genes</tspan></text><circle class="n" cx="337" cy="816" r="4.5"/><circle class="n" cx="380" cy="836" r="4.5"/></g>
<g id="rbpjk"><ellipse class="n" cx="380" cy="884" rx="43" ry="44"/><ellipse class="i" cx="380" cy="884" rx="40" ry="41"/><polygon class="n" points="401,853 415,871 401,889 388,871"/><ellipse class="f" cx="362" cy="869" rx="20" ry="12"/><ellipse class="n" cx="358" cy="894" rx="20" ry="12"/><ellipse class="n" cx="400" cy="897" rx="19" ry="12"/><text class="t" x="362" y="874">RBPJK</text><text class="t" x="401" y="875">HAT1</text><text class="t" x="358" y="899">NICD</text><text class="t" x="400" y="902">p300</text></g>
<g id="nicd1"><ellipse class="n" cx="378" cy="961" rx="20" ry="12"/><text class="t" x="378" y="966">NICD</text></g>
<g id="cellsurv"><circle class="n" cx="529" cy="889" r="4"/><text class="l" x="536" y="894">Cell survival</text></g>
<g id="lef1"><ellipse class="n" cx="494" cy="920" rx="20" ry="12"/><text class="t" x="494" y="925">LEF1</text></g>
<g id="cbp"><ellipse class="n" cx="447" cy="946" rx="20" ry="12"/><text class="t" x="447" y="951">CBP</text></g>
<g id="ctnn1"><ellipse class="n" cx="494" cy="948" rx="19" ry="17"/><text class="t" x="494" y="945">CTNN<tspan x="494" dy="14">β</tspan></text></g>
<g id="tcf"><ellipse class="n" cx="538" cy="948" rx="20" ry="11"/><ellipse class="i" cx="538" cy="948" rx="17" ry="8"/><text class="t" x="538" y="953">TCF3/4</text></g>
<circle class="n" cx="569" cy="905" r="4.5"/><circle class="n" cx="579" cy="904" r="4.5"/>
<g id="smad1"><circle class="n" cx="653" cy="930" r="24"/><circle class="i" cx="653" cy="930" r="21"/><ellipse class="f" cx="653" cy="943" rx="20" ry="13"/><text class="t" x="654" y="924">SMAD4</text><text class="t" x="653" y="941">SMAD<tspan x="653" dy="14">1/5/8</tspan></text></g>
<g id="e2f3"><ellipse class="f" cx="715" cy="937" rx="20" ry="11"/><ellipse class="i" cx="715" cy="937" rx="16" ry="8"/><use href="#bwBYG" x="699" y="901"/><text class="t" x="715" y="942">E2F</text></g>
<g id="rbl1"><ellipse class="n" cx="764" cy="919" rx="20" ry="12"/><text class="t" x="764" y="924">RBL1</text></g>
<g id="smad2"><ellipse class="n" cx="818" cy="936" rx="24" ry="27"/><ellipse class="i" cx="818" cy="936" rx="21" ry="24"/><ellipse class="f" cx="818" cy="925" rx="20" ry="12"/><ellipse class="n" cx="818" cy="950" rx="20" ry="12"/><text class="t" x="818" y="921">SMAD<tspan x="818" dy="14">2/3</tspan></text><text class="t" x="818" y="955">SMAD4</text></g>
<g id="junfos2"><ellipse class="n" cx="757" cy="680" rx="27" ry="30"/><ellipse class="i" cx="757" cy="680" rx="24" ry="27"/><ellipse class="f" cx="758" cy="666" rx="19" ry="13"/><ellipse class="n" cx="757" cy="691" rx="20" ry="11"/><text class="t" x="758" y="671">c-Jun</text><text class="t" x="757" y="696">c-Fos</text></g>
<g id="miz1"><ellipse class="n" cx="815" cy="692" rx="20" ry="12"/><text class="t" x="815" y="697">MIZ1</text></g>
<g id="mycmax"><ellipse class="n" cx="870" cy="679" rx="25" ry="28"/><ellipse class="i" cx="870" cy="679" rx="22" ry="25"/><ellipse class="n" cx="869" cy="666" rx="20" ry="12"/><ellipse class="n" cx="871" cy="691" rx="20" ry="12"/><text class="t" x="869" y="671">Myc</text><text class="t" x="871" y="696">MAX</text></g>
<g id="cdk46"><ellipse class="n" cx="777" cy="739" rx="34" ry="31"/><ellipse class="i" cx="777" cy="739" rx="31" ry="28"/><polygon class="f" points="748,727 778,727 763,757"/><circle class="f" cx="792" cy="749" r="16"/><circle class="i" cx="792" cy="749" r="13"/><use href="#bwwYw" x="746" y="698"/><use href="#bwwYG" x="780" y="703"/><text class="t" x="763" y="739">CDK<tspan x="763" dy="14">4/6</tspan></text><text class="t" x="792" y="742">Cyclin<tspan x="792" dy="14">D</tspan></text></g>
<g id="p16"><circle class="n" cx="678" cy="741" r="16"/><text class="t" x="678" y="739">p16<tspan x="678" dy="14">INK4A</tspan></text></g>
<g id="cdk2"><ellipse class="n" cx="725" cy="810" rx="30" ry="33"/><ellipse class="i" cx="725" cy="810" rx="27" ry="30"/><polygon class="f" points="695,791 730,791 712,815"/><circle class="f" cx="733" cy="815" r="16"/><circle class="i" cx="733" cy="815" r="13"/><use href="#bRBYG" x="695" y="763"/><use href="#bRBYG" x="740" y="814"/><text class="t" x="712" y="803">CDK2</text><text class="t" x="733" y="810">Cyclin<tspan x="733" dy="14">E</tspan></text></g>
<g id="p18"><circle class="n" cx="779" cy="808" r="16"/><text class="t" x="779" y="801">p18<tspan x="779" dy="14">INK4C</tspan></text></g>
<g id="p19"><circle class="n" cx="822" cy="783" r="16"/><text class="t" x="822" y="781">p19<tspan x="822" dy="14">INK4D</tspan></text></g>
<g id="p15"><circle class="f" cx="851" cy="810" r="16"/><text class="t" x="851" y="808">p15<tspan x="851" dy="14">INK4B</tspan></text></g>
<g id="p21b"><circle class="n" cx="827" cy="835" r="16"/><text class="t" x="827" y="833">p21<tspan x="827" dy="14">CIP1</tspan></text></g>
<g id="p27"><circle class="n" cx="776" cy="887" r="16"/><text class="t" x="776" y="885">p27<tspan x="776" dy="14">KIP1</tspan></text></g>
<g id="repress"><circle class="n" cx="772" cy="544" r="4.5"/><text class="t" x="771" y="561">Repression of<tspan x="771" dy="14.3">apoptosis &amp;</tspan><tspan x="771" dy="14.3">cell cycle</tspan><tspan x="771" dy="14.3">arrest</tspan></text></g>
<g id="foxo1"><ellipse class="n" cx="841" cy="498" rx="20" ry="12"/><text class="t" x="841" y="503">FoxO1</text></g>
<g id="nfkb3"><ellipse class="n" cx="873" cy="538" rx="19" ry="11"/><ellipse class="i" cx="873" cy="538" rx="16" ry="8.5"/><text class="t" x="873" y="543">NF-κB</text></g>
<g id="cellsurv2"><circle class="n" cx="873" cy="571" r="4.5"/><text class="t" x="871" y="591">Cell<tspan x="871" dy="14">survival</tspan></text></g>
<g id="cycreg2"><text class="t" x="723" y="617">Cyclin<tspan x="725" dy="14">regulation</tspan></text><circle class="n" cx="763" cy="621" r="4"/></g>
<g id="jnk3"><polygon class="f" points="832,633 862,633 846,655"/><use href="#bRBYG" x="831" y="604"/><text class="t" x="846" y="645">JNK</text></g>
<g id="erk4"><polygon class="n" points="624,484 654,484 640,515"/><use href="#bwwYw" x="624" y="456"/><text class="t" x="640" y="496">ERK<tspan x="640" dy="14">1/2</tspan></text></g>
<g id="jnk4"><polygon class="f" points="667,493 696,493 681,516"/><use href="#bRBYG" x="665" y="464"/><text class="t" x="681" y="505">JNK</text></g>
<g id="cycd"><circle class="f" cx="722" cy="502" r="15.5"/><circle class="i" cx="722" cy="502" r="13"/><use href="#bwwYG" x="707" y="459"/><text class="t" x="723" y="499">Cyclin<tspan x="722" dy="14">D</tspan></text></g>
<g id="junfos3"><ellipse class="n" cx="640" cy="605" rx="25" ry="28"/><ellipse class="i" cx="640" cy="605" rx="22" ry="25"/><ellipse class="f" cx="640" cy="593" rx="20" ry="11"/><ellipse class="n" cx="640" cy="615" rx="19" ry="11"/><text class="t" x="640" y="598">c-Jun</text><text class="t" x="640" y="620">c-Fos</text></g>
<g id="elk1"><ellipse class="f" cx="596" cy="614" rx="20" ry="12"/><use href="#bwBww" x="581" y="576"/><text class="t" x="596" y="619">Elk-1</text></g>
<g id="ccreg"><circle class="n" cx="640" cy="657" r="4.5"/><circle class="n" cx="672" cy="661" r="4.5"/><text class="t" x="638" y="674">Cell Cycle<tspan x="638" dy="14">regulation and</tspan><tspan x="638" dy="14">oncogenesis</tspan></text></g>
<g id="cfos"><ellipse class="n" cx="596" cy="736" rx="20" ry="12"/><text class="t" x="596" y="741">c-Fos</text></g>
<g id="glic"><ellipse class="n" cx="166" cy="1123" rx="34" ry="40"/><ellipse class="i" cx="166" cy="1123" rx="31" ry="37"/><ellipse class="n" cx="168" cy="1098" rx="21" ry="12"/><ellipse class="n" cx="178" cy="1122" rx="20" ry="12"/><polygon class="n" points="151,1119 163,1138 151,1157 140,1138"/><text class="t" x="168" y="1103">Gli</text><text class="t" x="178" y="1127">SuFu</text><text class="t" x="151" y="1143">Fu</text></g>
<g id="gprot"><circle class="n" cx="276" cy="1121" r="16"/><circle class="i" cx="276" cy="1121" r="13"/><text class="t" x="276" y="1126">G protein</text></g>
<g id="smo"><rect class="n" x="265" y="1158" width="24" height="32" stroke-width="1.2"/><use href="#bwwYw" x="261" y="1186"/><text class="t" x="276" y="1182">Smo</text></g>
<g id="ptch"><ellipse class="n" cx="235" cy="1180" rx="11" ry="20"/><ellipse class="i" cx="235" cy="1180" rx="8" ry="16"/><use href="#bwBYw" x="204" y="1141"/><text class="t" x="235" y="1185">PTCH</text></g>
<g id="hedgehog"><circle class="n" cx="183" cy="1230" r="16"/><circle class="i" cx="183" cy="1230" r="13"/><text class="t" x="183" y="1235">Hedgehog</text></g>
<text class="t" x="349" y="1116">γ-Secretase<tspan x="349" dy="14">Complex</tspan></text>
<g id="gsec"><ellipse class="n" cx="349" cy="1176" rx="35" ry="41"/><ellipse class="i" cx="349" cy="1176" rx="32" ry="38"/><polygon class="n" points="357,1140 372,1162 357,1180 345,1162"/><polygon class="n" points="378,1150 390,1172 378,1196 368,1172"/><polygon class="n" points="360,1172 376,1196 360,1216 345,1196"/><ellipse class="f" cx="339" cy="1178" rx="19" ry="12"/><ellipse class="i" cx="339" cy="1178" rx="15" ry="9"/><use href="#bRBYG" x="305" y="1182"/><text class="t" x="357" y="1155">PSEN<tspan x="357" dy="14">1/2</tspan></text><text class="t" x="378" y="1176">PEN2</text><text class="t" x="339" y="1183">APH1</text><text class="t" x="360" y="1201">NCSTN</text></g>
<polygon id="dm4" class="n" points="409,1136 415,1136 409,1144 403,1144"/>
<g id="notch"><ellipse class="n" cx="437" cy="1181" rx="19" ry="13"/><text class="t" x="437" y="1178">Notch<tspan x="437" dy="14">1</tspan></text></g>
<g id="dsh"><circle class="n" cx="497" cy="1134" r="16"/><text class="t" x="497" y="1139">Dsh</text></g>
<g id="fzd"><circle class="n" cx="497" cy="1188" r="30"/><circle class="i" cx="497" cy="1188" r="27"/><rect x="474" y="1175" width="24" height="28" fill="#cfd0d2" stroke="#a3a3a5"/><rect class="i" x="478" y="1179" width="16" height="19"/><ellipse class="n" cx="512" cy="1185" rx="12" ry="21"/><ellipse class="i" cx="512" cy="1185" rx="9" ry="17"/><use href="#bRBYG" x="469" y="1148"/><text class="t" x="486" y="1188">Fzd</text><text class="t" x="513" y="1181">LRP<tspan x="513" dy="14">1/5/6</tspan></text></g>
<g id="wnt5a"><circle class="n" cx="447" cy="1241" r="16"/><text class="t" x="447" y="1239">WNT<tspan x="447" dy="14">5A</tspan></text></g>
<g id="wnt1"><circle class="n" cx="497" cy="1270" r="16"/><text class="t" x="497" y="1275">WNT1</text></g>
<g id="cdhe"><circle class="n" cx="604" cy="1188" r="16"/><text class="t" x="604" y="1186">CDH<tspan x="604" dy="14">E</tspan></text></g>
<g id="cd2"><rect class="n" x="590" y="1236" width="28" height="17" rx="8.5"/><text class="t" x="604" y="1250">Cd2+</text></g>
<g id="nicd2"><ellipse class="n" cx="378" cy="1063" rx="20" ry="12"/><text class="t" x="378" y="1068">NICD</text></g>
<g id="ctnn2"><ellipse class="n" cx="425" cy="1062" rx="20" ry="14"/><text class="t" x="425" y="1060">CTNN<tspan x="425" dy="14">β</tspan></text></g>
<g id="apc"><ellipse class="n" cx="521" cy="1061" rx="41" ry="40"/><ellipse class="i" cx="521" cy="1061" rx="38" ry="37"/><circle class="n" cx="498" cy="1046" r="15"/><circle class="n" cx="534" cy="1044" r="17"/><circle class="n" cx="498" cy="1077" r="15"/><polygon class="f" points="514,1063 545,1063 530,1095"/><use href="#bwwYw" x="533" y="1078"/><text class="t" x="498" y="1051">APC</text><text class="t" x="534" y="1043">CTNN<tspan x="534" dy="14">β</tspan></text><text class="t" x="498" y="1082">AXIN</text><text class="t" x="526" y="1075">GSK3<tspan x="530" dy="14">β</tspan></text></g>
<g id="ctnnc"><circle class="n" cx="604" cy="1120" r="34"/><circle class="i" cx="604" cy="1120" r="31"/><ellipse class="n" cx="604" cy="1104" rx="19" ry="17"/><circle class="n" cx="588" cy="1130" r="16"/><circle class="i" cx="588" cy="1130" r="13"/><circle class="n" cx="621" cy="1133" r="16"/><text class="t" x="604" y="1101">CTNN<tspan x="604" dy="14">β</tspan></text><text class="t" x="587" y="1127">CTNN<tspan x="589" dy="14">α</tspan></text><text class="t" x="622" y="1130">CTNN<tspan x="622" dy="14">δ</tspan></text></g>
<g id="nlk"><polygon class="f" points="620,1065 652,1065 636,1096"/><text class="t" x="636" y="1085">NLK</text></g>
<g id="src2"><polygon class="f" points="682,1117 714,1117 698,1148"/><text class="t" x="698" y="1138">Src</text></g>
<g id="tak2"><ellipse class="n" cx="709" cy="1077" rx="36" ry="32"/><ellipse class="i" cx="709" cy="1077" rx="33" ry="29"/><circle class="n" cx="690" cy="1084" r="16"/><circle class="n" cx="728" cy="1085" r="16"/><polygon class="f" points="694,1058 724,1058 709,1090"/><use href="#bRBYw" x="693" y="1029"/><text class="t" x="709" y="1070">TAK<tspan x="709" dy="14">1</tspan></text><text class="t" x="690" y="1089">TAB2</text><text class="t" x="728" y="1090">TAB1</text></g>
<g id="smadc1"><circle class="n" cx="791" cy="1050" r="27"/><circle class="i" cx="791" cy="1050" r="24"/><ellipse class="n" cx="791" cy="1038" rx="20" ry="12"/><ellipse class="f" cx="791" cy="1062" rx="20" ry="13"/><ellipse class="i" cx="791" cy="1062" rx="17" ry="10"/><text class="t" x="791" y="1043">SMAD4</text><text class="t" x="791" y="1060">SMAD<tspan x="791" dy="14">1/5/8</tspan></text></g>
<g id="smadc2"><ellipse class="n" cx="927" cy="1050" rx="24" ry="27"/><ellipse class="i" cx="927" cy="1050" rx="21" ry="24"/><ellipse class="f" cx="927" cy="1039" rx="20" ry="11"/><ellipse class="n" cx="927" cy="1061" rx="20" ry="12"/><text class="t" x="927" y="1036">SMAD<tspan x="927" dy="14">2/3</tspan></text><text class="t" x="927" y="1066">SMAD4</text></g>
<g id="smad4c"><ellipse class="n" cx="894" cy="1079" rx="20" ry="12"/><text class="t" x="894" y="1084">SMAD4</text></g>
<g id="smad6"><ellipse class="n" cx="854" cy="1099" rx="20" ry="12"/><text class="t" x="854" y="1104">SMAD6</text></g>
<g id="smad158"><ellipse class="f" cx="818" cy="1127" rx="20" ry="14"/><ellipse class="i" cx="818" cy="1127" rx="16" ry="10"/><text class="t" x="818" y="1124">SMAD<tspan x="818" dy="14">1/5/8</tspan></text></g>
<g id="smad7a"><ellipse class="n" cx="841" cy="1157" rx="20" ry="12"/><text class="t" x="841" y="1162">SMAD7</text></g>
<g id="smad23"><ellipse class="f" cx="979" cy="1120" rx="20" ry="14"/><ellipse class="i" cx="979" cy="1120" rx="16" ry="10"/><text class="t" x="979" y="1117">SMAD<tspan x="979" dy="14">2/3</tspan></text></g>
<g id="smad7b"><ellipse class="n" cx="1028" cy="1116" rx="20" ry="13"/><text class="t" x="1028" y="1121">SMAD7</text></g>
<g id="erk5"><polygon class="n" points="883,1104 915,1104 899,1135"/><use href="#bwwYw" x="906" y="1122"/><text class="t" x="899" y="1117">ERK<tspan x="899" dy="14">1/2</tspan></text></g>
<g id="ras4"><polygon class="f" points="899,1158 913,1177 899,1197 885,1177"/><polygon class="i" points="899,1163 909,1177 899,1192 889,1177"/><use href="#bRwYG" x="883" y="1186"/><text class="t" x="899" y="1181">Ras</text></g>
<g id="bmpr"><circle class="n" cx="771" cy="1180" r="37"/><circle class="i" cx="771" cy="1180" r="34"/><ellipse class="n" cx="753" cy="1181" rx="12" ry="25"/><ellipse class="i" cx="753" cy="1181" rx="9" ry="21"/><ellipse class="f" cx="791" cy="1181" rx="12" ry="25"/><text class="t" x="753" y="1179">BMPR<tspan x="754" dy="14">1</tspan></text><text class="t" x="791" y="1179">BMPR<tspan x="792" dy="14">2</tspan></text></g>
<g id="bmp"><rect x="755" y="1231" width="30" height="23" fill="#cfd0d2" stroke="#9a9a9c" stroke-dasharray="1.5 1.5"/><rect x="759" y="1235" width="22" height="19" fill="none" stroke="#9a9a9c" stroke-dasharray="1.5 1.5"/><use href="#bRBYw" x="755" y="1254"/><text class="t" x="770" y="1251">BMP</text></g>
<g id="tgfr"><circle class="n" cx="1052" cy="1179" r="29"/><circle class="i" cx="1052" cy="1179" r="26"/><ellipse class="n" cx="1037" cy="1179" rx="12" ry="24"/><ellipse class="n" cx="1067" cy="1179" rx="12" ry="24"/><text class="t" x="1038" y="1176">TGF<tspan x="1038" dy="14">βR1</tspan></text><text class="t" x="1067" y="1176">TGF<tspan x="1067" dy="14">βR2</tspan></text></g>
<g id="tgfb"><rect class="dot" x="1037" y="1227" width="34" height="27"/><rect class="dot" x="1042" y="1231" width="24" height="23"/><use href="#bwwYw" x="1037" y="1254"/><text class="t" x="1052" y="1247">TGF-β</text></g>
<g id="casp8"><polygon class="n" points="1107,1073 1127,1089 1107,1105 1087,1089"/><polygon class="i" points="1107,1077 1122,1089 1107,1101 1092,1089"/><text class="t" x="1107" y="1085">Caspase<tspan x="1107" dy="14">8,10</tspan></text></g>
<g id="bid"><circle class="n" cx="1077" cy="1035" r="16"/><text class="t" x="1077" y="1040">BID</text></g>
<g id="tbid2"><circle class="n" cx="1155" cy="1035" r="16"/><text class="t" x="1155" y="1040">tBID</text></g>
<polygon id="dm5" class="n" points="1106,1036 1111,1042 1106,1048 1101,1042"/>
<g id="flip"><ellipse class="f" cx="1082" cy="1137" rx="16" ry="18"/><use href="#bRwww" x="1067" y="1103"/><text class="t" x="1082" y="1144">FLIP</text></g>
<g id="fadd"><circle class="n" cx="1138" cy="1140" r="16"/><text class="t" x="1138" y="1145">FADD</text></g>
<g id="fas"><ellipse class="n" cx="1207" cy="1180" rx="11" ry="20"/><text class="t" x="1207" y="1185">Fas</text></g>
<g id="fasl"><rect class="n" x="1192" y="1225" width="31" height="32" stroke-width="1.5"/><text class="t" x="1207" y="1246">FasL</text></g>
<g id="daxx"><circle class="n" cx="1240" cy="1152" r="16"/><text class="t" x="1240" y="1157">Daxx</text></g>
<g id="ask1"><polygon class="n" points="1192,1103 1222,1103 1207,1135"/><text class="t" x="1207" y="1124">ASK1</text></g>
<g id="jnk5"><polygon class="f" points="1154,1087 1182,1087 1168,1108"/><use href="#bRBYG" x="1152" y="1057"/><text class="t" x="1168" y="1098">JNK</text></g>
</g>
<g id="caption">
<text class="cap" x="25" y="1318" textLength="630" lengthAdjust="spacingAndGlyphs" style="font-weight:700">Figure 7 IsomiRs and miRNAs target similar biological pathways</text>
<text class="cap" x="655" y="1318" textLength="623" lengthAdjust="spacingAndGlyphs">. The ‘molecular mechanisms of cancer’ pathway (Ingenuity Pathway</text>
<text class="cap" x="25" y="1344" textLength="1253" lengthAdjust="spacingAndGlyphs">Analysis) overlaid with rectangles corresponding to the miRNA or isomiR targeting that gene. hsa-miR-10a-5p|{hsa-miR-10a}|21_43| is colored red,</text>
<text class="cap" x="25" y="1370" textLength="1213" lengthAdjust="spacingAndGlyphs">hsa-miR-10b-5p|{hsa-miR-10b}|26_48|) is colored yellow, hsa-miR-10a-5p|{isomiR}|22_44| is colored blue, and hsa-miR-10b-5p|{isomiR}|27_49| is</text>
<text class="cap" x="25" y="1397" textLength="124" lengthAdjust="spacingAndGlyphs">colored green.</text>
</g>
</svg>
